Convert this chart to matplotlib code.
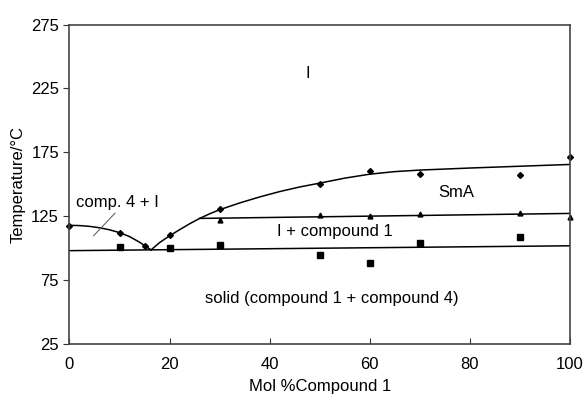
import matplotlib
matplotlib.use('Agg')
import matplotlib.pyplot as plt

matplotlib.rcParams['font.family'] = 'Liberation Sans'
matplotlib.rcParams['font.size'] = 12

# measured points
x_diamond = [0, 10, 15, 20, 30, 50, 60, 70, 90, 100]
t_diamond = [117.6, 111.9, 102.2, 110.5, 130.6, 150.6, 160.3, 158, 157.2, 171.5]
x_tri = [30, 50, 60, 70, 90, 100]
t_tri = [122.3, 126.2, 125.4, 126.9, 127.5, 124.9]
x_sq = [10, 20, 30, 50, 60, 70, 90]
t_sq = [101.4, 100.2, 102.7, 94.9, 88.4, 104.5, 108.7]

# phase boundary curves
liq_left_x = [0, 2, 4, 6, 8, 10, 12, 14, 16.3]
liq_left_t = [118, 117.8, 117.2, 116.1, 114.5, 112.3, 109.2, 104.8, 98.8]
liq_right_x = [16.3, 18, 20, 22, 24, 26, 28, 30, 34, 38, 42, 46, 50, 55, 60, 65, 70, 80, 90, 100]
liq_right_t = [98.8, 104.5, 109.8, 114.6, 119.2, 123.4, 127, 130.2, 135.5, 140.2, 144.4, 148, 151, 154.9, 158, 160, 161.2, 162.8, 164.2, 165.6]
sma_x = [26, 100]
sma_t = [123.4, 127.3]
solid_x = [0, 100]
solid_t = [98.2, 102]
leader_x = [4.8, 9.1]
leader_t = [109.8, 127.5]

fig = plt.figure(figsize=(5.85, 3.96), dpi=100)
ax = fig.add_axes([0.1188, 0.1306, 0.9744 - 0.1188, 0.9381 - 0.1306])

ax.plot(liq_left_x, liq_left_t, color='black', lw=1.1)
ax.plot(liq_right_x, liq_right_t, color='black', lw=1.1)
ax.plot(sma_x, sma_t, color='black', lw=1.1)
ax.plot(solid_x, solid_t, color='black', lw=1.1)
ax.plot(leader_x, leader_t, color='#555555', lw=0.7)

ax.plot(x_diamond, t_diamond, 'D', color='black', ms=3, ls='none', clip_on=False)
ax.plot(x_tri, t_tri, '^', color='black', ms=3.5, ls='none', clip_on=False)
ax.plot(x_sq, t_sq, 's', color='black', ms=4, ls='none', clip_on=False)

ax.text(47.7, 236.7, 'I', ha='center', va='center')
ax.text(77.2, 143.6, 'SmA', ha='center', va='center')
ax.text(53.1, 113, 'I + compound 1', ha='center', va='center')
ax.text(52.5, 61.1, 'solid (compound 1 + compound 4)', ha='center', va='center')
ax.text(9.5, 135.8, 'comp. 4 + I', ha='center', va='center')

ax.set_xlim(0, 100)
ax.set_ylim(25, 275)
ax.set_xticks([0, 20, 40, 60, 80, 100])
ax.set_yticks([25, 75, 125, 175, 225, 275])
ax.tick_params(axis='x', direction='in', length=4, pad=9, colors='#333333', labelcolor='black')
ax.tick_params(axis='y', direction='out', length=4, colors='#333333', labelcolor='black')
for s in ax.spines.values():
    s.set_color('#444444')
    s.set_linewidth(1.2)
ax.set_xlabel('Mol %Compound 1', labelpad=5)
ax.set_ylabel('Temperature/\u00b0C', labelpad=4)

plt.savefig('out.png', dpi=100)
